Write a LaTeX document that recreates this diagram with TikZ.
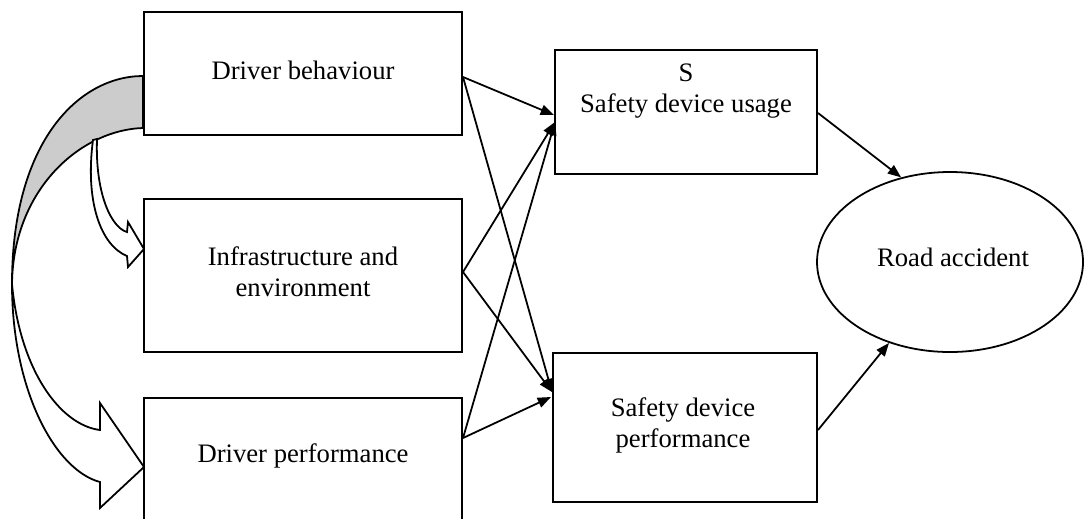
\documentclass[tikz,border=0pt]{standalone}
\usepackage{fontspec}
\setmainfont{Liberation Serif}
\usetikzlibrary{arrows.meta,shapes.geometric,calc}
\definecolor{ribbongray}{RGB}{204,204,204}
\begin{document}
\begin{tikzpicture}[x=0.45pt,y=-0.45pt,
  box/.style={draw,line width=0.9pt,rectangle,inner sep=0pt},
  lbl/.style={inner sep=0pt,align=center,font=\fontsize{12}{13.95}\selectfont},
  conn/.style={line width=0.8pt,-{Triangle[length=6pt,width=4.6pt]}},
  ribbon/.style={draw,line width=0.8pt,line join=miter}]
\clip (0,0) rectangle (1084,518);
% curved block arrows
\filldraw[ribbon,fill=ribbongray] (143,76) .. controls (80,76) and (12,140) .. (12,284)
  .. controls (13,190) and (80,130) .. (143,128) -- cycle;
\filldraw[ribbon,fill=white] (12,284) .. controls (12,390) and (55,470) .. (100,482)
  -- (100,508) -- (144,467) -- (100,403) -- (100,430)
  .. controls (60,425) and (20,370) .. (12,284) -- cycle;
\filldraw[ribbon,fill=white] (93,140) .. controls (85,200) and (100,245) .. (127,256)
  -- (128,267) -- (144,249) -- (128,222) -- (127,232)
  .. controls (112,228) and (95,195) .. (97,139) -- cycle;
% boxes
\node[box,minimum width=143.1pt,minimum height=55.35pt] (b1) at (303,73.5) {};
\node[box,minimum width=143.1pt,minimum height=68.85pt] (b2) at (303,275.5) {};
\node[box,minimum width=143.1pt,minimum height=63pt,anchor=north] (b3) at (303,397) {};
\node[box,minimum width=117.9pt,minimum height=55.8pt] (b4) at (686,112) {};
\node[box,minimum width=118.8pt,minimum height=67.05pt] (b5) at (685,427.5) {};
\node[draw,ellipse,line width=0.8pt,minimum width=119.7pt,minimum height=81pt,inner sep=0pt] (acc) at (950,262) {};
% labels
\node[lbl] (t1) at (303,70) {Driver behaviour};
\node[lbl] (t2) at (303,272) {Infrastructure and\\environment};
\node[lbl] (t3) at (303,456) {Driver performance};
\node[lbl] (t4) at (686,91) {S\\Safety device usage};
\node[lbl] (t5) at (683,425) {Safety device\\performance};
\node[lbl] (tacc) at (953,257) {Road accident};
% connectors
\draw[conn] ($(b1.east)+(0,3.5)$) -- ($(b4.west)+(0,3)$);
\draw[conn] ($(b1.east)+(0,3.5)$) -- ($(b5.west)+(0,-35.5)$);
\draw[conn] ($(b2.east)+(0,-3.5)$) -- ($(b4.west)+(1,10)$);
\draw[conn] ($(b2.east)+(0,-3.5)$) -- ($(b5.west)+(0,-35.5)$);
\draw[conn] ($(b3.east)+(0,-30)$) -- ($(b4.west)+(1,10)$);
\draw[conn] ($(b3.east)+(0,-30)$) -- ($(b5.west)+(-1,-30.5)$);
\draw[conn] ($(b4.east)+(0,1)$) -- (acc.120);
\draw[conn] ($(b5.east)+(0,2.5)$) -- (acc.233);
\end{tikzpicture}
\end{document}
